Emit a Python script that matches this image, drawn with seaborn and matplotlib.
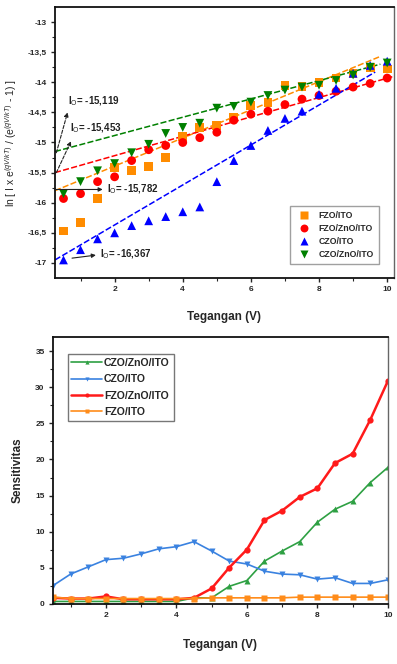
import numpy as np
import pandas as pd
import matplotlib
matplotlib.use("Agg")
import matplotlib.pyplot as plt
import seaborn as sns

sns.set_style("ticks")
plt.rcParams['font.family'] = ['Liberation Sans', 'DejaVu Sans']
plt.rcParams['mathtext.fontset'] = 'custom'
plt.rcParams['mathtext.rm'] = 'Liberation Sans'
plt.rcParams['mathtext.it'] = 'Liberation Sans:italic'
plt.rcParams['mathtext.bf'] = 'Liberation Sans:bold'

# ---------------- data ----------------
voltage = [0.5, 1.0, 1.5, 2.0, 2.5, 3.0, 3.5, 4.0, 4.5, 5.0,
           5.5, 6.0, 6.5, 7.0, 7.5, 8.0, 8.5, 9.0, 9.5, 10.0]

series_top = ["FZO/ITO", "FZO/ZnO/ITO", "CZO/ITO", "CZO/ZnO/ITO"]
ln_fzo_ito = [-16.47, -16.33, -15.93, -15.42, -15.47, -15.40, -15.25, -14.90, -14.75, -14.72,
              -14.58, -14.38, -14.33, -14.05, -14.07, -14.00, -13.93, -13.85, -13.75, -13.78]
ln_fzo_zno_ito = [-15.93, -15.85, -15.65, -15.57, -15.30, -15.12, -15.05, -15.00, -14.92, -14.83,
                  -14.63, -14.53, -14.48, -14.37, -14.28, -14.22, -14.15, -14.08, -14.02, -13.93]
ln_czo_ito = [-16.95, -16.78, -16.60, -16.50, -16.38, -16.30, -16.23, -16.15, -16.07, -15.65,
              -15.30, -15.05, -14.80, -14.60, -14.48, -14.20, -14.10, -13.85, -13.72, -13.65]
ln_czo_zno_ito = [-15.85, -15.65, -15.47, -15.35, -15.17, -15.03, -14.85, -14.75, -14.68, -14.43,
                  -14.40, -14.33, -14.22, -14.13, -14.08, -14.05, -13.97, -13.88, -13.75, -13.68]

# fitted straight lines (end points)
fit_x = {"FZO/ITO": [0.25, 9.76], "FZO/ZnO/ITO": [0.25, 10.2],
         "CZO/ITO": [0.25, 9.65], "CZO/ZnO/ITO": [0.25, 9.8]}
fit_y = {"FZO/ITO": [-15.80, -13.58], "FZO/ZnO/ITO": [-15.50, -13.90],
         "CZO/ITO": [-16.95, -13.83], "CZO/ZnO/ITO": [-15.15, -13.70]}

i0_labels = ["-15,119", "-15,453", "-15,782", "-16,367"]

series_bot = ["CZO/ZnO/ITO", "CZO/ITO", "FZO/ZnO/ITO", "FZO/ITO"]
sens_czo_zno_ito = [0.3, 0.3, 0.3, 0.3, 0.3, 0.3, 0.3, 0.3, 0.8, 0.8,
                    2.4, 3.2, 5.9, 7.3, 8.6, 11.3, 13.1, 14.2, 16.8, 18.9]
sens_czo_ito = [2.5, 4.1, 5.1, 6.1, 6.3, 6.9, 7.6, 7.9, 8.6, 7.3,
                5.9, 5.5, 4.5, 4.1, 4.0, 3.4, 3.6, 2.8, 2.8, 3.3]
sens_fzo_zno_ito = [0.8, 0.7, 0.7, 1.0, 0.6, 0.6, 0.6, 0.6, 0.8, 2.1,
                    5.0, 7.5, 11.6, 12.9, 14.8, 16.0, 19.5, 20.8, 25.5, 30.9]
sens_fzo_ito = [0.9, 0.7, 0.7, 0.7, 0.7, 0.7, 0.7, 0.7, 0.7, 0.8,
                0.8, 0.8, 0.8, 0.8, 0.9, 0.9, 0.9, 0.9, 0.9, 0.9]

# ---------------- frames ----------------
top_df = pd.concat([
    pd.DataFrame({"V": voltage, "y": vals, "s": name})
    for name, vals in zip(series_top, [ln_fzo_ito, ln_fzo_zno_ito, ln_czo_ito, ln_czo_zno_ito])
], ignore_index=True)
fit_df = pd.concat([
    pd.DataFrame({"V": fit_x[n], "y": fit_y[n], "s": n}) for n in series_top
], ignore_index=True)
bot_df = pd.concat([
    pd.DataFrame({"V": voltage, "y": vals, "s": name})
    for name, vals in zip(series_bot, [sens_czo_zno_ito, sens_czo_ito, sens_fzo_zno_ito, sens_fzo_ito])
], ignore_index=True)

top_pal = {"FZO/ITO": "#FF8C00", "FZO/ZnO/ITO": "#FF0000",
           "CZO/ITO": "#0000FF", "CZO/ZnO/ITO": "#008000"}
top_mk = {"FZO/ITO": "s", "FZO/ZnO/ITO": "o", "CZO/ITO": "^", "CZO/ZnO/ITO": "v"}
bot_pal = {"CZO/ZnO/ITO": "#2EA043", "CZO/ITO": "#3A82E0",
           "FZO/ZnO/ITO": "#FF1A1A", "FZO/ITO": "#FF8C1A"}
bot_mk = {"CZO/ZnO/ITO": "^", "CZO/ITO": "v", "FZO/ZnO/ITO": "o", "FZO/ITO": "s"}

fig = plt.figure(figsize=(3.97, 6.64), dpi=100)
ax1 = fig.add_axes([0.1385, 0.5813, 0.8539, 0.4082])
ax2 = fig.add_axes([0.1335, 0.0904, 0.8435, 0.4021])

# ---------------- top ----------------
sns.lineplot(data=fit_df, x="V", y="y", hue="s", palette=top_pal, ax=ax1,
             legend=False, linewidth=1.1, estimator=None, sort=False)
for l in ax1.lines:
    l.set_linestyle((0, (4, 1.5)))
sns.scatterplot(data=top_df, x="V", y="y", hue="s", style="s", palette=top_pal,
                markers=top_mk, s=40, edgecolor="none", ax=ax1, zorder=3)

ax1.set_xlim(0.25, 10.2)
ax1.set_ylim(-17.25, -12.75)
ax1.set_xticks([2, 4, 6, 8, 10])
ax1.set_xticks([1, 3, 5, 7, 9], minor=True)
yt = [-17, -16.5, -16, -15.5, -15, -14.5, -14, -13.5, -13]
ax1.set_yticks(yt)
ax1.set_yticklabels([("%g" % v).replace(".", ",") for v in yt])
ax1.set_yticks([-16.75, -16.25, -15.75, -15.25, -14.75, -14.25, -13.75, -13.25], minor=True)
ax1.set_xlabel("Tegangan (V)", fontsize=8.5, fontweight="bold", labelpad=13)
ax1.set_ylabel(r"ln [ I x e$^{(qV/kT)}$ / (e$^{(qV/kT)}$ - 1) ]", fontsize=7.5, labelpad=6)

h, lab = ax1.get_legend_handles_labels()
leg1 = ax1.legend(h, lab, loc="lower right", fontsize=6.3, frameon=True, fancybox=False,
                  edgecolor="#888888", handletextpad=0.6, borderpad=0.6,
                  labelspacing=0.45, bbox_to_anchor=(0.968, 0.035), markerscale=0.9)
for t in leg1.get_texts():
    t.set_fontweight("bold")

# I0 annotations
ann = [
    (i0_labels[0], (0.62, -14.32), (0.29, -15.17), (0.62, -14.50), (0, (3, 1.5))),
    (i0_labels[1], (0.68, -14.77), (0.29, -15.50), (0.72, -14.98), (0, (3, 1.5))),
    (i0_labels[2], (1.78, -15.78), (0.24, -15.78), (1.65, -15.78), "-"),
    (i0_labels[3], (1.58, -16.86), (0.75, -16.92), (1.45, -16.87), "-"),
]
for txt, tp, a0, a1, ls in ann:
    ax1.text(tp[0], tp[1], r"I$_{\mathrm{O}}$= " + txt, fontsize=7, va="center", ha="left",
             fontweight="bold", color="#222222")
    ax1.annotate("", xy=a1, xytext=a0,
                 arrowprops=dict(arrowstyle="-|>", color="#222222", lw=0.8,
                                 linestyle=ls, mutation_scale=6, shrinkA=0, shrinkB=0))

# ---------------- bottom ----------------
sns.lineplot(data=bot_df, x="V", y="y", hue="s", style="s", palette=bot_pal,
             markers=bot_mk, dashes=False, markersize=4.5, markeredgecolor="none",
             linewidth=1.2, ax=ax2, hue_order=series_bot, style_order=series_bot)
for l in ax2.lines:
    if l.get_color().lower() in ("#ff1a1a",):
        l.set_linewidth(1.8)

ax2.set_xlim(0.5, 10)
ax2.set_ylim(-0.05, 37)
ax2.set_xticks([2, 4, 6, 8, 10])
ax2.set_xticks([1, 3, 5, 7, 9], minor=True)
ax2.set_yticks([0, 5, 10, 15, 20, 25, 30, 35])
ax2.set_yticks([2.5, 7.5, 12.5, 17.5, 22.5, 27.5, 32.5], minor=True)
ax2.set_xlabel("Tegangan (V)", fontsize=8.5, fontweight="bold", labelpad=14)
ax2.set_ylabel("Sensitivitas", fontsize=8.5, fontweight="bold", labelpad=8)

h2, l2 = ax2.get_legend_handles_labels()
leg2 = ax2.legend(h2, l2, loc="upper left", fontsize=7.6, frameon=True, fancybox=False,
                  edgecolor="#555555", handlelength=2.9, handletextpad=0.2, borderpad=0.35,
                  labelspacing=0.6, bbox_to_anchor=(0.028, 0.955))
for t in leg2.get_texts():
    t.set_fontweight("bold")
for lh in leg2.get_lines():
    lh.set_markersize(3)

for ax in (ax1, ax2):
    ax.tick_params(axis="both", which="major", direction="out", length=3, width=1,
                   labelsize=6, pad=3)
    ax.tick_params(axis="both", which="minor", direction="out", length=2, width=0.8)
    for lbl in ax.get_xticklabels() + ax.get_yticklabels():
        lbl.set_fontweight("bold")
    for side in ("left", "bottom", "top"):
        ax.spines[side].set_visible(True)
        ax.spines[side].set_color("#111111")
        ax.spines[side].set_linewidth(1.3)
    ax.spines["right"].set_visible(True)
    ax.spines["right"].set_color("#666666")
    ax.spines["right"].set_linewidth(1.0)

fig.savefig("out.png", dpi=100)
